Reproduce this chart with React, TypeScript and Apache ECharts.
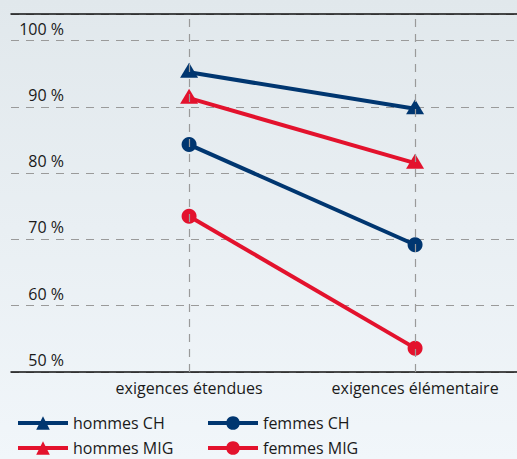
import React, { useEffect, useRef } from "react";
import * as echarts from "echarts";

const categories = ["exigences étendues", "exigences élémentaire"];
const hommesCH = [95.2, 89.7];
const hommesMIG = [91.3, 81.5];
const femmesCH = [84.3, 69.2];
const femmesMIG = [73.5, 53.6];
const yTicks = [50, 60, 70, 80, 90, 100];

const NAVY = "#003670";
const RED = "#e3122d";
const FONT = "'Open Sans', 'Noto Sans', sans-serif";
const TXT = "#1a1a1a";

export default function App() {
  const ref = useRef<HTMLDivElement>(null);
  useEffect(() => {
    const chart = echarts.init(ref.current!, undefined, { renderer: "svg" });
    const toPts = (arr: number[]) => arr.map((v, i) => [i, v]);
    const mk = (name: string, data: number[], color: string, symbol: string, size: any, offset: any) => ({
      name,
      type: "line",
      data: toPts(data),
      symbol,
      symbolSize: size,
      symbolOffset: offset,
      z: 3,
      lineStyle: { color, width: 4 },
      itemStyle: { color },
    });
    const legendBase = {
      orient: "vertical",
      top: 414,
      height: 60,
      itemWidth: 50,
      itemHeight: 17,
      itemGap: 7,
      padding: 0,
      lineStyle: { width: 4 },
      textStyle: { color: TXT, fontSize: 16, lineHeight: 18, fontFamily: FONT },
    };
    chart.setOption({
      animation: false,
      backgroundColor: new echarts.graphic.LinearGradient(0, 0, 0, 1, [
        { offset: 0, color: "#e1e8ec" },
        { offset: 1, color: "#f1f6fa" },
      ]),
      textStyle: { fontFamily: FONT },
      grid: { left: 11, right: 0, top: 14, bottom: 87, containLabel: false },
      xAxis: [
        {
          type: "value",
          min: -0.788,
          max: 1.451,
          axisLine: { show: true, lineStyle: { color: "#111", width: 1.5 } },
          axisTick: { show: false },
          splitLine: { show: false },
          axisLabel: {
            customValues: [0, 1],
            formatter: (v: number) => categories[Math.round(v)] ?? "",
            color: TXT,
            fontSize: 16,
            fontFamily: FONT,
            margin: 8,
          },
        },
        {
          type: "value",
          position: "top",
          min: -0.788,
          max: 1.451,
          axisLine: { show: true, lineStyle: { color: "#111", width: 1.5 } },
          axisTick: { show: false },
          splitLine: { show: false },
          axisLabel: { show: false },
        },
      ],
      yAxis: {
        type: "value",
        min: 50,
        max: 104,
        interval: 10,
        axisLine: { show: false },
        axisTick: { show: false },
        splitLine: { show: true, lineStyle: { color: "#9a9a9a", type: [8, 7], width: 1.2 } },
        axisLabel: {
          inside: true,
          margin: 53,
          align: "right",
          verticalAlign: "bottom",
          padding: [0, 0, 4, 0],
          color: TXT,
          fontSize: 16,
          fontFamily: FONT,
          formatter: (v: number) => (yTicks.includes(v) ? `${v} %` : ""),
        },
      },
      legend: [
        { ...legendBase, data: ["hommes CH", "hommes MIG"], left: 16 },
        { ...legendBase, data: ["femmes CH", "femmes MIG"], left: 206 },
      ],
      series: [
        {
          type: "line",
          data: [],
          z: 1,
          silent: true,
          markLine: {
            silent: true,
            symbol: "none",
            label: { show: false },
            lineStyle: { color: "#9a9a9a", type: [8, 7], width: 1.2 },
            data: categories.map((_, i) => ({ xAxis: i })),
          },
        },
        mk("hommes CH", hommesCH, NAVY, "triangle", [18, 15], [0, -2]),
        mk("hommes MIG", hommesMIG, RED, "triangle", [18, 15], [0, -2]),
        mk("femmes CH", femmesCH, NAVY, "circle", 15, [0, 0]),
        mk("femmes MIG", femmesMIG, RED, "circle", 15, [0, 0]),
      ],
    });
    return () => chart.dispose();
  }, []);
  return (
    <div
      ref={ref}
      style={{ position: "fixed", left: 0, top: 0, width: 517, height: 459 }}
    />
  );
}
